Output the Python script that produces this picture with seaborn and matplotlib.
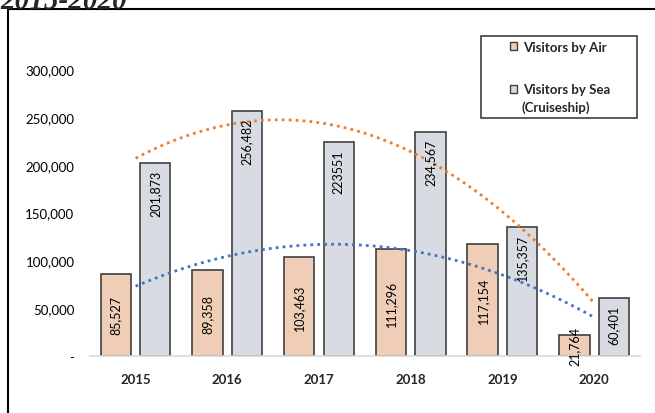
import numpy as np
import pandas as pd
import seaborn as sns
import matplotlib.pyplot as plt
from matplotlib.lines import Line2D
from matplotlib.ticker import FuncFormatter

# Data
years = ["2015", "2016", "2017", "2018", "2019", "2020"]
air = [85527, 89358, 103463, 111296, 117154, 21764]
sea = [201873, 256482, 223551, 234567, 135357, 60401]
air_labels = ["85,527", "89,358", "103,463", "111,296", "117,154", "21,764"]
sea_labels = ["201,873", "256,482", "223551", "234,567", "135,357", "60,401"]
series = ["Visitors by Air", "Visitors by Sea"]
sea_note = "(Cruiseship)"

df = pd.DataFrame({
    "year": years * 2,
    "visitors": air + sea,
    "series": [series[0]] * len(years) + [series[1]] * len(years),
})

sns.set_theme(style="white")
plt.rcParams["font.family"] = ["Lato", "DejaVu Sans"]

fig = plt.figure(figsize=(6.55, 4.14), dpi=100)
ax = fig.add_axes([0.137, 0.138, 0.84, 0.808])

sns.barplot(
    data=df, x="year", y="visitors", hue="series",
    palette=["#F8CBAD", "#D6DCE4"], width=0.86, gap=0.23,
    edgecolor="#404040", linewidth=1.2, ax=ax, legend=False,
)

# value labels
ax.bar_label(ax.containers[0], labels=air_labels, label_type="center",
             rotation=90, fontsize=9, color="#000000")
t_sea = ax.bar_label(ax.containers[1], labels=sea_labels, label_type="edge",
                     rotation=90, fontsize=9, color="#000000", padding=-5)
for t in t_sea:
    t.set_va("top")

# polynomial (order 2) trendlines
xs = np.arange(len(years))
xf = np.linspace(0, len(years) - 1, 100)
sea_fit = np.polyval(np.polyfit(xs, sea, 2), xf)
air_fit = np.polyval(np.polyfit(xs, air, 2), xf)
ax.plot(xf, sea_fit, color="#ED7D31", linestyle=(0, (1, 1.5)), linewidth=2)
ax.plot(xf, air_fit, color="#4472C4", linestyle=(0, (1, 1.5)), linewidth=2)

ax.set_ylim(0, 350000)
ax.set_xlim(-0.5, len(years) - 0.5)
ax.set_yticks(range(0, 300001, 50000))
ax.yaxis.set_major_formatter(FuncFormatter(lambda v, p: "-" if v == 0 else f"{int(v):,}"))
ax.tick_params(axis="y", length=0, labelsize=9.5, pad=11, colors="#000000")
ax.tick_params(axis="x", length=0, labelsize=9.5, pad=12)
for lbl in ax.get_xticklabels():
    lbl.set_fontweight("bold")
ax.set_xlabel("")
ax.set_ylabel("")
for s in ["top", "right", "left"]:
    ax.spines[s].set_visible(False)
ax.spines["bottom"].set_color("#D9D9D9")
ax.spines["bottom"].set_linewidth(1.2)

# legend (entries without frame, box drawn separately for wide padding)
handles = [
    plt.Rectangle((0, 0), 1, 1, facecolor="#F8CBAD", edgecolor="#404040", linewidth=1),
    plt.Rectangle((0, 0), 1, 1, facecolor="#D6DCE4", edgecolor="#404040", linewidth=1),
]
leg = fig.legend(
    handles, series, loc="upper left", bbox_to_anchor=(510 / 655, 1 - 42 / 414),
    prop={"weight": "bold", "size": 9.5}, frameon=False,
    handlelength=0.55, handleheight=0.55, handletextpad=0.45,
    labelspacing=2.3, borderpad=0, borderaxespad=0,
)
fig.text(522 / 655, 1 - 108 / 414, sea_note, fontsize=9.5, fontweight="bold",
         ha="left", va="center")
fig.add_artist(plt.Rectangle((481 / 655, 1 - 119 / 414), 156 / 655, 82 / 414,
                             transform=fig.transFigure, fill=False,
                             edgecolor="#404040", linewidth=1.2))

# outer frame (left and top edges of the cropped chart box)
fig.add_artist(Line2D([8 / 655, 8 / 655], [0, 1 - 10 / 414], color="black", lw=1.5,
                      transform=fig.transFigure))
fig.add_artist(Line2D([8 / 655, 1], [1 - 10 / 414, 1 - 10 / 414], color="black", lw=1.5,
                      transform=fig.transFigure))

# cropped title
fig.text(0.0, 1 - 9 / 414, "2015-2020", fontsize=21, fontweight="bold", fontstyle="italic",
         family="Liberation Serif", ha="left", va="baseline")

fig.savefig("out.png", dpi=100)
